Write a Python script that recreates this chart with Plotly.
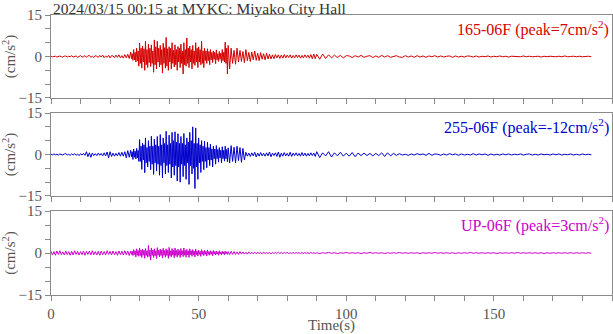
import plotly.graph_objects as go
from plotly.subplots import make_subplots

# ---- data (cm/s^2) ----
# Each trace is stored in four pieces with their own sample step:
#   early : t = 0 .. 26.5 s  (0.5 s step)
#   active: t = 27 .. 59.75 s (0.25 s step)
#   mid   : t = 60 .. 89.5 s (0.5 s step)
#   late  : t = 90 .. 183 s  (1 s step)
SEG_START = [0.0, 27.0, 60.0, 90.0]
SEG_STEP = [0.5, 0.25, 0.5, 1.0]

ns_early = [0.1,-0.1,0.0,0.1,-0.2,0.1,0.2,-0.1,-0.2,0.1,
            0.2,-0.2,0.1,-0.1,0.3,-0.2,0.1,0.2,-0.3,0.1,
            0.3,-0.2,-0.1,0.3,-0.3,0.2,0.4,-0.3,0.1,-0.4,
            0.3,0.1,-0.3,0.4,-0.2,0.5,-0.4,0.2,-0.3,0.4,
            -0.5,0.3,0.2,-0.4,0.5,-0.3,0.6,-0.5,0.3,-0.6,
            0.7,-0.5,0.8,-0.7]
ns_active = [1.6,-0.8,1.0,-1.4, 2.5,-1.2,1.5,-2.0, 3.0,-1.5,2.0,-3.5, 4.9,-2.5,3.0,-4.2,
             3.8,-2.0,2.8,-5.0, 5.5,-3.0,2.5,-4.0, 4.5,-2.2,3.0,-3.6, 4.2,-2.5,2.0,-5.7,
             6.0,-3.0,3.5,-4.5, 5.5,-2.0,3.0,-3.8, 4.0,-3.0,2.5,-6.0, 4.8,-2.5,3.2,-4.2,
             6.9,-3.5,2.8,-5.0, 3.5,-2.0,3.0,-4.5, 5.0,-2.5,2.2,-3.8, 4.2,-3.0,2.5,-5.0,
             3.6,-2.0,3.0,-4.0, 4.5,-2.5,2.0,-6.3, 5.0,-3.0,2.5,-3.5, 6.7,-2.5,3.0,-4.0,
             3.8,-2.0,2.5,-4.5, 4.0,-2.5,2.0,-3.2, 5.0,-2.0,3.0,-4.0, 3.5,-2.0,2.5,-3.0,
             5.5,-2.5,2.0,-4.0, 3.0,-1.5,2.0,-2.5, 2.8,-1.5,1.8,-3.0, 2.5,-1.2,1.5,-2.2,
             2.0,-1.0,1.5,-2.6, 2.4,-1.2,1.0,-1.8, 1.8,-1.0,1.2,-2.2, 2.5,-1.5,1.5,-2.0,
             5.2,-2.5,3.0,-6.3]
ns_mid = [4.0,-4.5, 3.0,-2.5, 2.2,-2.8, 3.0,-2.0, 2.2,-1.8, 1.8,-2.2, 2.5,-1.5, 1.5,-1.8,
          1.6,-1.2, 2.0,-1.4, 1.2,-1.5, 1.4,-1.0, 1.0,-1.2, 1.2,-0.9, 0.8,-0.9, 0.6,-0.8,
          0.7,-0.5, 0.6,-0.7, 0.5,-0.6, 0.7,-0.5, 0.5,-0.4, 0.6,-0.6, 0.4,-0.5, 0.6,-0.4,
          0.5,-0.6, 0.4,-0.5, 0.6,-0.4, 0.5,-0.6, 0.7,-0.8, 0.9,-0.8]
ns_late = [0.8,-1.0,0.9,-0.7,0.6,-0.5,0.5,-0.4,0.4,
           -0.5,0.3,0.2,-0.4,0.3,-0.2,0.4,-0.3,0.1,0.3,-0.4,0.2,-0.3,0.4,-0.2,0.3,-0.3,0.1,0.3,-0.2,-0.3,0.3,-0.2,0.2,-0.3,0.3,-0.2,
           0.2,-0.3,0.2,-0.1,0.3,-0.2,0.2,-0.2,0.1,0.2,-0.3,0.2,-0.2,0.1,-0.2,0.2,0.1,-0.2,0.2,-0.2,0.1,-0.1,0.2,-0.2,0.1,
           -0.1,0.2,-0.1,0.1,-0.2,0.1,0.0,0.1,-0.1,0.2,-0.1,0.1,-0.1,0.0,0.1,-0.2,0.1,-0.1,0.1,0.0,-0.1,0.1,-0.1,0.2,-0.1,0.0,0.1,-0.1,0.1,-0.1,0.0,0.1,-0.1]

ew_early = [0.1,-0.1,0.2,-0.1,0.1,-0.2,0.2,-0.1,-0.2,0.2,
            0.3,-0.2,0.1,-0.3,0.2,-0.2,0.3,-0.3,0.2,-0.4,
            0.3,-0.2,0.4,-0.3,1.0,-0.8,0.6,-1.0,0.5,-0.4,
            0.3,-0.4,0.5,-0.3,0.4,-0.5,0.6,-0.5,0.9,-1.2,
            1.0,-0.7,0.5,-0.6,0.4,-0.5,0.7,-0.6,0.8,-0.6,
            1.0,-1.2,1.4,-1.0]
ew_active = [1.5,-0.8,1.0,-1.8, 2.0,-1.0,1.2,-1.6, 2.2,-1.2,1.5,-2.5, 5.4,-2.5,3.0,-5.4,
             4.0,-2.0,3.5,-6.6, 6.0,-3.0,2.5,-4.5, 5.0,-2.5,3.0,-5.5, 6.6,-3.5,3.0,-7.2,
             5.5,-3.0,3.5,-6.0, 6.5,-3.5,3.0,-7.5, 7.2,-4.0,3.5,-8.4, 6.0,-3.0,4.0,-7.0,
             8.4,-4.0,3.5,-6.5, 7.0,-3.5,4.0,-8.5, 8.0,-4.5,5.0,-7.5, 8.2,-4.0,4.5,-9.6,
             7.5,-4.5,4.0,-10.0, 6.5,-3.5,4.0,-8.0, 7.6,-4.0,3.5,-9.0, 6.0,-3.0,4.5,-10.8,
             8.0,-4.0,5.0,-7.0, 10.0,-5.0,4.0,-12.3, 9.6,-4.5,4.0,-9.0, 6.0,-3.0,3.5,-6.5,
             5.0,-2.5,3.0,-5.5, 4.8,-2.5,2.5,-4.8, 4.5,-2.0,2.5,-4.0, 3.8,-2.0,2.0,-4.5,
             3.0,-1.5,2.0,-3.5, 3.2,-1.5,1.8,-2.8, 2.5,-1.2,1.5,-3.0, 2.8,-1.5,1.5,-2.4,
             3.0,-1.5,1.8,-2.6]
ew_mid = [2.4,-3.0, 3.2,-2.5, 2.6,-3.0, 3.0,-2.2, 2.5,-2.8, 2.2,-2.0, 0.8,-0.6, 0.5,-0.7,
          0.6,-0.5, 0.8,-0.9, 0.5,-0.6, 0.7,-0.5, 0.4,-0.6, 0.6,-0.5, 0.9,-0.8, 0.5,-0.4,
          0.6,-0.7, 0.9,-1.0, 0.5,-0.6, 0.7,-0.5, 0.4,-0.6, 0.8,-0.7, 0.5,-0.4, 0.6,-0.5,
          0.4,-0.6, 0.7,-0.5, 0.5,-0.6, 0.4,-0.5, 0.6,-0.4, 0.5,-0.7]
ew_late = [1.0,-1.1,0.6,-0.5,1.0,-0.9,0.6,-0.5,0.8,-0.6,0.5,-0.6,0.7,-0.8,0.5,-0.4,0.5,-0.4,0.4,-0.5,0.4,-0.4,0.6,-0.7,0.6,-0.5,0.4,-0.3,
           0.3,-0.2,0.1,-0.3,0.2,-0.2,0.3,-0.1,0.2,-0.3,0.4,-0.3,0.2,0.1,-0.3,0.2,-0.2,0.3,-0.1,0.2,-0.3,0.2,-0.2,0.1,-0.2,0.3,-0.2,0.2,-0.1,0.2,-0.3,0.2,-0.2,
           0.1,-0.2,0.2,-0.1,0.2,-0.2,0.1,-0.1,0.2,-0.2,0.1,0.2,-0.2,0.1,-0.2,0.2,-0.1,0.1,-0.2,0.2,-0.1,0.2,-0.2,0.1,-0.1,0.2,-0.2,0.1,-0.2,0.2,-0.1,0.1,-0.1]

ud_early = [0.6,-0.7,0.5,-0.8,0.7,-0.5,0.8,-0.6,0.4,-0.7,
            0.7,-0.6,0.5,-0.8,0.6,-0.7,0.8,-0.5,0.6,-0.7,
            0.5,-0.6,0.7,-0.8,0.6,-0.5,0.7,-0.7,0.8,-0.6,
            0.5,-0.7,0.6,-0.8,0.7,-0.6,0.5,-0.7,0.8,-0.5,
            0.6,-0.7,0.7,-0.6,0.5,-0.8,0.7,-0.6,0.6,-0.7,
            0.8,-0.6,0.7,-0.9]
ud_active = [0.7,-0.5,0.6,-0.9, 1.2,-0.6,0.8,-1.4, 1.5,-0.8,0.9,-1.2, 1.8,-0.9,1.0,-1.6,
             1.4,-0.8,1.0,-1.9, 1.6,-0.9,0.8,-1.5, 2.7,-1.2,1.0,-2.5, 1.8,-0.9,1.1,-1.6,
             1.5,-1.0,0.8,-2.0, 1.9,-0.8,1.0,-1.4, 1.4,-0.9,1.0,-1.8, 1.7,-0.8,0.9,-1.5,
             1.5,-0.9,1.0,-1.9, 2.0,-1.0,0.8,-1.4, 1.6,-0.8,1.0,-1.7, 1.8,-0.9,0.9,-1.5,
             1.4,-0.8,0.9,-1.6, 1.6,-0.7,0.8,-1.3, 1.8,-0.8,0.9,-1.5, 1.3,-0.7,0.8,-1.6,
             1.5,-0.6,0.8,-1.2, 1.2,-0.6,0.7,-1.4, 1.4,-0.6,0.7,-1.1, 1.0,-0.5,0.6,-1.2,
             1.2,-0.5,0.6,-0.9, 0.9,-0.5,0.6,-1.1, 1.1,-0.5,0.5,-0.8, 0.8,-0.4,0.5,-1.0,
             0.9,-0.4,0.5,-0.7, 0.7,-0.4,0.4,-0.8, 0.8,-0.4,0.4,-0.6, 0.6,-0.3,0.4,-0.7,
             0.7,-0.3,0.4,-0.5]
ud_mid = [0.5,-0.6, 0.6,-0.5, 0.5,-0.5, 0.4,-0.5, 0.5,-0.4, 0.4,-0.4, 0.3,-0.4, 0.4,-0.3, 0.3,-0.3, 0.3,-0.3,
          0.3,-0.2, 0.2,-0.3, 0.3,-0.2, 0.2,-0.2, 0.2,-0.3, 0.2,-0.2, 0.2,-0.2, 0.3,-0.2, 0.2,-0.2, 0.2,-0.1,
          0.2,-0.2, 0.1,-0.2, 0.2,-0.2, 0.2,-0.1, 0.1,-0.2, 0.2,-0.2, 0.2,-0.1, 0.1,-0.2, 0.2,-0.1, 0.1,-0.2]
ud_late = [0.1,-0.2,0.1,-0.1,0.2,-0.1,0.1,-0.2,0.1,-0.1,
           0.2,-0.1,0.1,-0.1,0.1,-0.2,0.1,-0.1,0.2,-0.1,
           0.1,-0.1,0.1,-0.2,0.1,-0.1,0.1,-0.1,0.2,-0.1,
           0.1,-0.1,0.1,-0.1,0.1,-0.2,0.1,-0.1,0.1,-0.1,
           0.2,-0.1,0.1,-0.1,0.1,-0.1,0.1,-0.2,0.1,-0.1,
           0.1,-0.1,0.2,-0.1,0.1,-0.1,0.1,-0.1,0.1,-0.1,
           0.1,-0.2,0.1,-0.1,0.1,-0.1,0.1,-0.1,0.2,-0.1,
           0.1,-0.1,0.1,-0.1,0.1,-0.1,0.1,-0.2,0.1,-0.1,
           0.1,-0.1,0.1,-0.1,0.1,-0.1,0.1,-0.1,0.1,-0.1,
           0.1,-0.1,0.1,-0.1]

components = ["165-06F", "255-06F", "UP-06F"]
peaks = ["7", "-12", "3"]
title_text = "2024/03/15 00:15 at MYKC: Miyako City Hall"
colors = ["#d40000", "#0000cc", "#cc00cc"]
x_ticks = [0, 50, 100, 150]
y_ticks = [-15, 0, 15]

series = [(ns_early, ns_active, ns_mid, ns_late),
          (ew_early, ew_active, ew_mid, ew_late),
          (ud_early, ud_active, ud_mid, ud_late)]


def build(pieces):
    t, y = [], []
    for start, step, vals in zip(SEG_START, SEG_STEP, pieces):
        t += [start + step * k for k in range(len(vals))]
        y += list(vals)
    return t, y


FONT = "Liberation Serif"
GRAY = "#555555"
AXC = "#8a8a8a"

fig = make_subplots(rows=3, cols=1, shared_xaxes=False, vertical_spacing=0.05)

doms = [[0.7036, 1.0], [0.3536, 0.65], [0.0, 0.30]]
for i, pieces in enumerate(series):
    t, y = build(pieces)
    fig.add_trace(go.Scatter(x=t, y=y, mode="lines", line=dict(color=colors[i], width=1),
                             showlegend=False, hoverinfo="skip"), row=i + 1, col=1)
    fig.update_yaxes(range=[-15, 15], tickvals=y_ticks, ticks="outside", ticklen=5,
                     tickcolor=AXC, showline=True, linecolor=AXC, mirror=True, showgrid=False,
                     zeroline=False, domain=doms[i],
                     minor=dict(dtick=5, ticks="outside", ticklen=5, tickcolor=AXC),
                     tickfont=dict(family=FONT, size=15, color=GRAY),
                     title=dict(text="(cm/s<sup>2</sup>)", font=dict(family=FONT, size=15, color=GRAY), standoff=4),
                     row=i + 1, col=1)
    fig.update_xaxes(range=[0, 190], tickvals=x_ticks, ticks="outside", ticklen=5,
                     tickcolor=AXC, showline=True, linecolor=AXC, mirror=True, showgrid=False,
                     zeroline=False, showticklabels=(i == 2),
                     minor=dict(dtick=10, ticks="outside", ticklen=5, tickcolor=AXC),
                     tickfont=dict(family=FONT, size=15, color=GRAY),
                     row=i + 1, col=1)
    yref = "y domain" if i == 0 else f"y{i+1} domain"
    xref = "x domain" if i == 0 else f"x{i+1} domain"
    fig.add_annotation(text=f"{components[i]} (peak={peaks[i]}cm/s<sup>2</sup>)", xref=xref, yref=yref,
                       x=0.999, y=1.0, yshift=-1, xanchor="right", yanchor="top", showarrow=False,
                       font=dict(family=FONT, size=16, color=colors[i]))

fig.update_xaxes(title=dict(text="Time(s)", font=dict(family=FONT, size=15, color=GRAY), standoff=0), row=3, col=1)

fig.add_annotation(text=title_text, xref="paper", yref="paper", x=0.0, y=1.0, yshift=7,
                   xanchor="left", yanchor="middle", showarrow=False,
                   font=dict(family=FONT, size=15.5, color="#333333"))

fig.update_layout(width=613, height=334, margin=dict(l=51, r=1, t=15, b=39),
                  paper_bgcolor="white", plot_bgcolor="white")

fig.write_html("out.html")
